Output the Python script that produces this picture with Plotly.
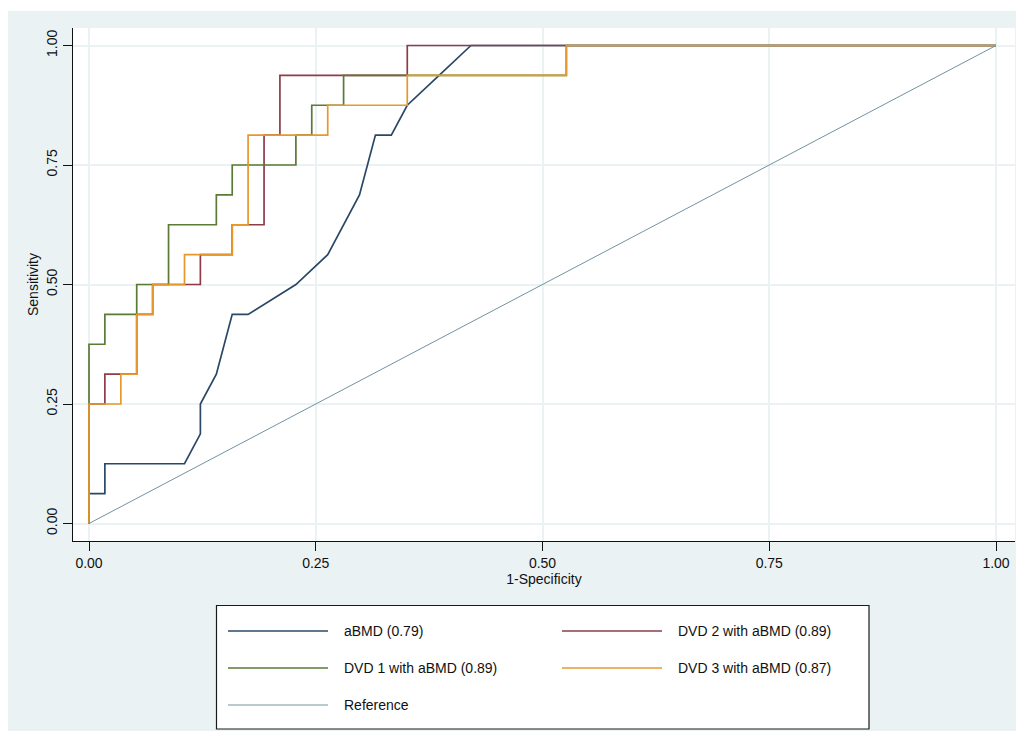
import plotly.graph_objects as go

# ROC operating points: 1-specificity (fpr) and sensitivity (tpr)
abmd_fpr = [0.0, 0.0, 0.0175, 0.0175, 0.1053, 0.1228, 0.1228, 0.1404, 0.1579, 0.1754,
            0.2281, 0.2632, 0.2982, 0.3158, 0.3333, 0.3509, 0.3860, 0.4211, 1.0]
abmd_tpr = [0.0, 0.0625, 0.0625, 0.125, 0.125, 0.1875, 0.25, 0.3125, 0.4375, 0.4375,
            0.5, 0.5625, 0.6875, 0.8125, 0.8125, 0.875, 0.9375, 1.0, 1.0]

dvd2_fpr = [0.0, 0.0, 0.0175, 0.0526, 0.0702, 0.1228, 0.1579, 0.1930, 0.2105, 0.3509, 1.0]
dvd2_tpr = [0.0, 0.25, 0.3125, 0.4375, 0.5, 0.5625, 0.625, 0.8125, 0.9375, 1.0, 1.0]

dvd1_fpr = [0.0, 0.0, 0.0175, 0.0526, 0.0877, 0.1404, 0.1579, 0.2281, 0.2456, 0.2807, 0.5263, 1.0]
dvd1_tpr = [0.0, 0.375, 0.4375, 0.5, 0.625, 0.6875, 0.75, 0.8125, 0.875, 0.9375, 1.0, 1.0]

dvd3_fpr = [0.0, 0.0, 0.0351, 0.0526, 0.0702, 0.1053, 0.1579, 0.1754, 0.2632, 0.3509, 0.5263, 1.0]
dvd3_tpr = [0.0, 0.25, 0.3125, 0.4375, 0.5, 0.5625, 0.625, 0.8125, 0.875, 0.9375, 1.0, 1.0]

ref_x = [0.0, 1.0]
ref_y = [0.0, 1.0]

series_names = ["aBMD (0.79)", "DVD 2 with aBMD (0.89)", "DVD 1 with aBMD (0.89)",
                "DVD 3 with aBMD (0.87)", "Reference"]
tick_values = [0.0, 0.25, 0.5, 0.75, 1.0]

NAVY = "#2a4866"
MAROON = "#8c3d47"
GREEN = "#5a7a36"
ORANGE = "#e6982c"
TEAL = "#7293a0"
BG = "#eaf2f3"
FONT = "Liberation Sans, Arial, sans-serif"

W, H = 1016, 731
ML, MR, MT, MB = 73, 1, 28, 190
PW, PH = W - ML - MR, H - MT - MB


def px(x):
    return (x - ML) / PW


def py(y):
    return (H - MB - y) / PH


fig = go.Figure()
fig.add_trace(go.Scatter(x=abmd_fpr, y=abmd_tpr, mode="lines", name=series_names[0],
                         line=dict(color=NAVY, width=1.7)))
fig.add_trace(go.Scatter(x=dvd2_fpr, y=dvd2_tpr, mode="lines", name=series_names[1],
                         line=dict(color=MAROON, width=1.7, shape="hv")))
fig.add_trace(go.Scatter(x=dvd1_fpr, y=dvd1_tpr, mode="lines", name=series_names[2],
                         line=dict(color=GREEN, width=1.7, shape="hv")))
fig.add_trace(go.Scatter(x=dvd3_fpr, y=dvd3_tpr, mode="lines", name=series_names[3],
                         line=dict(color=ORANGE, width=1.7, shape="hv")))
fig.add_trace(go.Scatter(x=ref_x, y=ref_y, mode="lines", name=series_names[4],
                         line=dict(color=TEAL, width=1)))

axis_common = dict(
    tickvals=tick_values, tickformat=".2f", showgrid=True, gridcolor=BG, gridwidth=2,
    zeroline=False, showline=True, linecolor="#111111", linewidth=1,
    ticks="outside", ticklen=9, tickcolor="#111111", tickwidth=1,
    tickfont=dict(family=FONT, size=14, color="#111111"),
)

fig.update_xaxes(range=[-16 / 907, 1 + 19 / 907], title=dict(
    text="1-Specificity", font=dict(family=FONT, size=14, color="#111111"), standoff=2),
    **axis_common)
fig.update_yaxes(range=[-17.5 / 478, 1 + 17.5 / 478], tickangle=-90, title=dict(
    text="Sensitivity", font=dict(family=FONT, size=14, color="#111111"), standoff=2),
    **axis_common)

shapes = [
    # white outer border strips
    dict(type="rect", xref="paper", yref="paper", x0=px(0), x1=px(W), y0=py(0), y1=py(11),
         fillcolor="white", line=dict(width=0), layer="below"),
    dict(type="rect", xref="paper", yref="paper", x0=px(0), x1=px(8), y0=py(H), y1=py(0),
         fillcolor="white", line=dict(width=0), layer="below"),
    # legend frame
    dict(type="rect", xref="paper", yref="paper", x0=px(216.5), x1=px(869), y0=py(729),
         y1=py(605.5), fillcolor="white", line=dict(color="#1a1a1a", width=1.2)),
]

legend_items = [
    (series_names[0], NAVY, 1.7, 228, 631),
    (series_names[1], MAROON, 1.7, 562, 631),
    (series_names[2], GREEN, 1.7, 228, 668),
    (series_names[3], ORANGE, 1.7, 562, 668),
    (series_names[4], TEAL, 1, 228, 705),
]
annotations = []
for name, color, width, lx, ly in legend_items:
    shapes.append(dict(type="line", xref="paper", yref="paper", x0=px(lx), x1=px(lx + 100),
                       y0=py(ly), y1=py(ly), line=dict(color=color, width=width)))
    annotations.append(dict(text=name, xref="paper", yref="paper", x=px(lx + 114), y=py(ly),
                            xanchor="left", yanchor="middle", showarrow=False,
                            font=dict(family=FONT, size=14, color="#111111")))

fig.update_layout(
    width=W, height=H, margin=dict(l=ML, r=MR, t=MT, b=MB, pad=0),
    paper_bgcolor=BG, plot_bgcolor="white", showlegend=False,
    shapes=shapes, annotations=annotations,
)

fig.write_html("out.html")
